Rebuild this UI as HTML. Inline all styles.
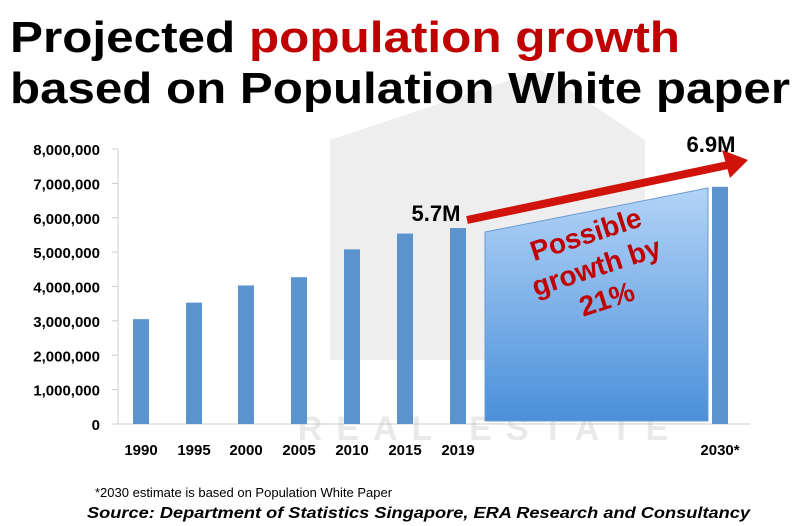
<!DOCTYPE html>
<html><head><meta charset="utf-8"><style>
body{margin:0;background:#fff}svg{display:block}
text{font-family:"Liberation Sans",sans-serif}
</style></head><body>
<svg id="chart" width="800" height="526" viewBox="0 0 800 526">
<defs><linearGradient id="g" x1="0" y1="0" x2="0" y2="1"><stop offset="0" stop-color="#b3d3f7"/><stop offset="1" stop-color="#4a90da"/></linearGradient></defs>
<g opacity="0.12">
<polygon points="330,140 540,70 645,140 645,360 330,360" fill="#777"/>
<text x="490" y="440" font-size="34" font-weight="bold" fill="#555" text-anchor="middle" letter-spacing="14">REAL ESTATE</text>
</g>
<text x="10" y="52" font-size="44" font-weight="bold" textLength="670" lengthAdjust="spacingAndGlyphs">Projected <tspan fill="#c00000">population growth</tspan></text>
<text x="10" y="103" font-size="44" font-weight="bold" textLength="780" lengthAdjust="spacingAndGlyphs">based on Population White paper</text>
<g id="axes"></g><g id="bars"></g>
<polygon points="485,232 708,188 708,421 485,421" fill="url(#g)" stroke="#6a9bd0"/>
<g>
<line x1="467" y1="220" x2="728" y2="165" stroke="#d0140c" stroke-width="8"/>
<polygon points="748,160 722,150 730,178" fill="#d0140c"/>
</g>
<text x="436" y="221" font-size="22" font-weight="bold" text-anchor="middle">5.7M</text>
<text x="711" y="152" font-size="22" font-weight="bold" text-anchor="middle">6.9M</text>
<g transform="translate(598,272) rotate(-18)" fill="#c00000" font-size="28" font-weight="bold" text-anchor="middle">
<text y="-30">Possible</text><text y="4">growth by</text><text y="38">21%</text></g>
<text x="95" y="497" font-size="13">*2030 estimate is based on Population White Paper</text>
<text x="87" y="518" font-size="16" font-weight="bold" font-style="italic" textLength="663" lengthAdjust="spacingAndGlyphs">Source: Department of Statistics Singapore, ERA Research and Consultancy</text>
</svg>
<script>
const categories=["1990","1995","2000","2005","2010","2015","2019","2030*"];
const values=[3050000,3530000,4030000,4270000,5080000,5540000,5700000,6900000];
const yTicks=[0,1000000,2000000,3000000,4000000,5000000,6000000,7000000,8000000];
const xCenters=[141,194,246,299,352,405,458,720];
const ns="http://www.w3.org/2000/svg";
const y0=424,y8=149;
function ys(v){return y0-(v/8000000)*(y0-y8);}
function mk(t,a,p){const e=document.createElementNS(ns,t);for(const k in a)e.setAttribute(k,a[k]);p.appendChild(e);return e;}
const ax=document.getElementById('axes'),bg=document.getElementById('bars');
yTicks.forEach(v=>{
 const y=ys(v);
 const l=mk('line',{x1:112,x2:118,y1:y,y2:y,stroke:'#ccc'},ax);
 
 
 const t=mk('text',{x:100,y:y+6,'font-size':15,'font-weight':'bold','text-anchor':'end'},ax);
 t.textContent=v.toLocaleString('en-US');
 
 
});
const al=mk('line',{x1:118,x2:118,y1:y8,y2:y0,stroke:'#ccc'},ax);


const bl=mk('line',{x1:112,x2:750,y1:y0,y2:y0,stroke:'#ccc'},ax);


categories.forEach((c,i)=>{
 const cx=xCenters[i],y=ys(values[i]);
 const r=mk('rect',{x:cx-8,y:y,width:16,height:y0-y,fill:'#5b93cc'},bg);
 
 
 const t=mk('text',{x:cx,y:455,'font-size':15,'font-weight':'bold','text-anchor':'middle'},ax);
 t.textContent=c;
 
 
});
</script>
</body></html>
